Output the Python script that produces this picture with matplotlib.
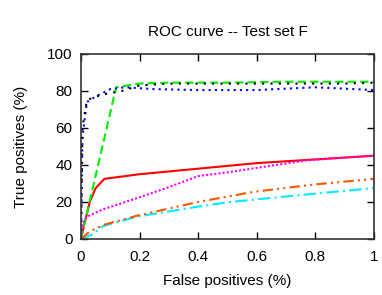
import numpy as np
import matplotlib
matplotlib.use("Agg")
import matplotlib.pyplot as plt

plt.rcParams["font.family"] = ["Liberation Sans", "DejaVu Sans"]

# ROC curves (false positive rate, true positive %)
fp_black = [0, 0.005, 0.02, 0.05, 0.1, 0.13, 0.2, 0.3, 0.5, 0.7, 0.9, 1.0]
tp_black = [0, 60, 75, 77, 79, 79.5, 83, 84, 84, 84, 84, 84.5]

fp_blue = [0, 0.005, 0.02, 0.05, 0.1, 0.15, 0.25, 0.4, 0.6, 0.8, 1.0]
tp_blue = [0, 55, 74, 77, 81, 82, 81, 80.5, 80.5, 82, 80.5]

fp_green = [0, 0.12, 0.2, 0.3, 0.5, 0.7, 1.0]
tp_green = [0, 82, 84, 84.5, 84.5, 85, 85]

fp_red = [0, 0.007, 0.03, 0.05, 0.08, 0.2, 0.4, 0.6, 0.8, 1.0]
tp_red = [0, 5, 20, 27.5, 32.5, 35, 38, 41, 43, 45]

fp_magenta = [0, 0.005, 0.02, 0.075, 0.19, 0.3, 0.4, 0.5, 0.77, 1.0]
tp_magenta = [0, 8, 12, 16, 22, 28, 34, 36, 42.5, 45]

fp_orange = [0, 0.03, 0.075, 0.19, 0.4, 0.59, 0.8, 1.0]
tp_orange = [0, 4, 7.5, 12.5, 20, 25.5, 29.5, 32.5]

fp_cyan = [0, 0.04, 0.075, 0.19, 0.4, 0.51, 0.8, 1.0]
tp_cyan = [0, 2.5, 7, 12, 17.5, 20, 24.5, 27.5]

fig = plt.figure(figsize=(3.82, 2.95), dpi=100)
ax = fig.add_axes([0.212, 0.19, 0.767, 0.627])

lw = 1.5
ax.plot(fp_red, tp_red, color="#ff0000", lw=lw, ls="-")
ax.plot(fp_green, tp_green, color="#00ee00", lw=lw, ls=(0, (4, 2)))
ax.plot(fp_blue, tp_blue, color="#0000ff", lw=lw, ls=(0, (1, 2)))
ax.plot(fp_magenta, tp_magenta, color="#ff00ff", lw=lw, ls=(0, (1, 1)))
ax.plot(fp_cyan, tp_cyan, color="#00eeff", lw=lw, ls=(0, (6, 2, 1, 2)))
ax.plot(fp_orange, tp_orange, color="#ff5500", lw=lw, ls=(0, (5, 2, 1, 2, 1, 2)))
ax.plot(fp_black, tp_black, color="#000000", lw=lw, ls=(0, (1, 3)))

ax.set_xlim(0, 1)
ax.set_ylim(0, 100)
ax.set_xticks([0, 0.2, 0.4, 0.6, 0.8, 1.0])
ax.set_xticklabels(["0", "0.2", "0.4", "0.6", "0.8", "1"])
ax.set_yticks([0, 20, 40, 60, 80, 100])
ax.tick_params(direction="in", top=True, right=True, length=5, width=1,
               labelsize=11)
ax.tick_params(axis="x", pad=8)
ax.tick_params(axis="y", pad=6)
for s in ax.spines.values():
    s.set_linewidth(1.2)
    s.set_color("#333333")

ax.set_title("ROC curve -- Test set F", fontsize=11, pad=13)
ax.set_xlabel("False positives (%)", fontsize=11, labelpad=7)
ax.set_ylabel("True positives (%)", fontsize=11, labelpad=14)

fig.savefig("out.png", dpi=100)
